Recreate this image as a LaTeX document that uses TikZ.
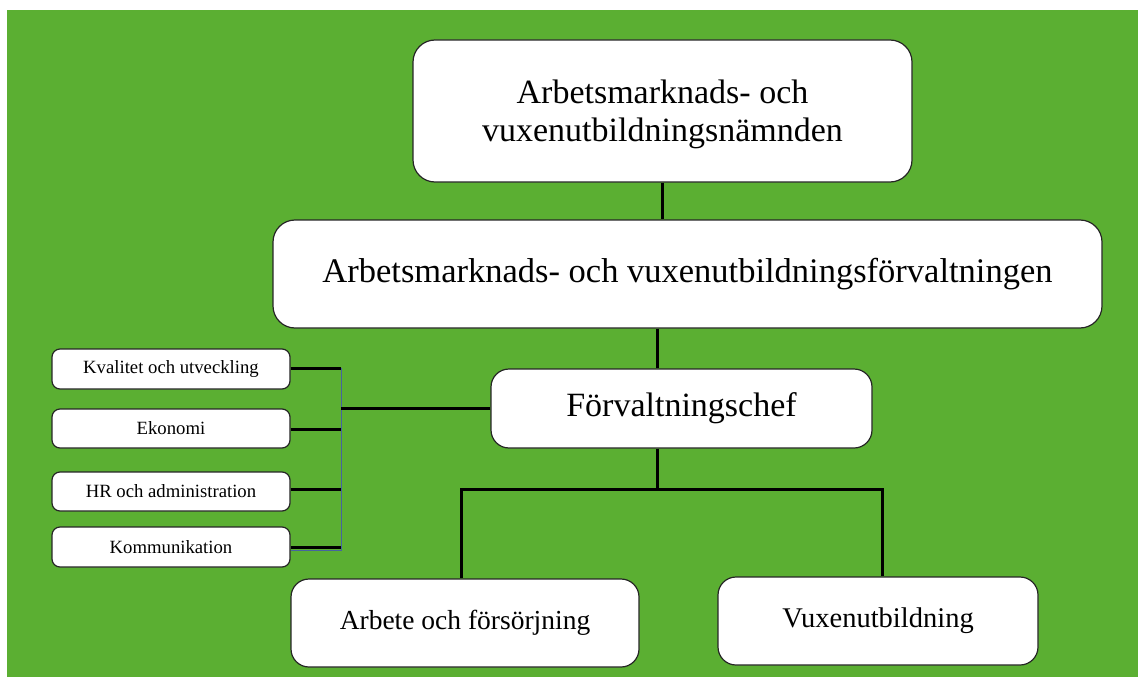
\documentclass[tikz,border=0pt]{standalone}
\usepackage{fontspec}
\setmainfont{Liberation Serif}
\definecolor{bggreen}{RGB}{91,175,50}
\definecolor{busblue}{RGB}{70,100,160}
\begin{document}
\begin{tikzpicture}[x=1pt,y=-1pt,
  box/.style={draw=black!85, line width=1.2pt, fill=white, rounded corners=#1, inner sep=0pt},
  box/.default=22pt,
  conn/.style={line width=3pt, black},
  busline/.style={line width=1pt, busblue}]
\useasboundingbox (0,0) rectangle (1138,677);
\fill[bggreen] (7,10) rectangle (1138,677);
% top
\node[box, minimum width=499pt, minimum height=142pt, font=\fontsize{34}{39}\selectfont] (top) at (662.5,111) {\raisebox{-4pt}[\height][\depth]{\begin{tabular}{@{}c@{}}Arbetsmarknads- och\\[-1pt]vuxenutbildningsnämnden\end{tabular}}};
\node[box, minimum width=829pt, minimum height=108pt, font=\fontsize{34.5}{40}\selectfont] (forv) at (687.5,274) {Arbetsmarknads- och vuxenutbildningsförvaltningen};
\node[box=18pt, minimum width=381pt, minimum height=79pt, font=\fontsize{34}{40}\selectfont] (chef) at (681.5,408.5) {Förvaltningschef};
\node[box=18pt, minimum width=348pt, minimum height=88pt, font=\fontsize{27.5}{32}\selectfont] (arb) at (465,623) {Arbete och försörjning};
\node[box=18pt, minimum width=320pt, minimum height=88pt, font=\fontsize{28.5}{32}\selectfont] (vux) at (878,621) {Vuxenutbildning};
% small boxes
\node[box=8pt, minimum width=238pt, minimum height=40pt, font=\fontsize{18.7}{22}\selectfont] (kval) at (171,369) {Kvalitet och utveckling};
\node[box=8pt, minimum width=238pt, minimum height=39pt, font=\fontsize{18.7}{22}\selectfont] (eko) at (171,428.5) {Ekonomi};
\node[box=8pt, minimum width=238pt, minimum height=39pt, font=\fontsize{18.7}{22}\selectfont] (hr) at (171,491.5) {HR och administration};
\node[box=8pt, minimum width=238pt, minimum height=40pt, font=\fontsize{18.7}{22}\selectfont] (kom) at (171,547) {Kommunikation};
% connectors
\coordinate (j1) at (662,220);
\draw[conn] (top.south -| j1) -- (forv.north -| j1);
\coordinate (j2) at (657,300);
\draw[conn] (forv.south -| j2) -- (chef.north -| j2);
\coordinate (hb) at (657,489);
\coordinate (hl) at (461,489);
\coordinate (hr2) at (882,489);
\draw[conn] (chef.south -| hb) -- (hb);
\draw[conn, line cap=rect] (hl) -- (hr2);
\draw[conn] (hl) -- (arb.north -| hl);
\draw[conn] (hr2) -- (vux.north -| hr2);
% left bus
\coordinate (bx) at (341,408);
\coordinate (btop) at (341,368);
\coordinate (bbot) at (341,550);
\draw[busline] (btop) -- (bbot) -- (kom.east |- bbot);
\draw[conn] (chef.west |- bx) -- (bx);
\draw[conn] (kval.east |- btop) -- (btop);
\draw[conn] (eko.east) ++(0,0.5) -- (341,429);
\draw[conn] (hr.east |- 0,489) -- (341,489);
\draw[conn] (kom.east) -- (341,547);
\end{tikzpicture}
\end{document}
